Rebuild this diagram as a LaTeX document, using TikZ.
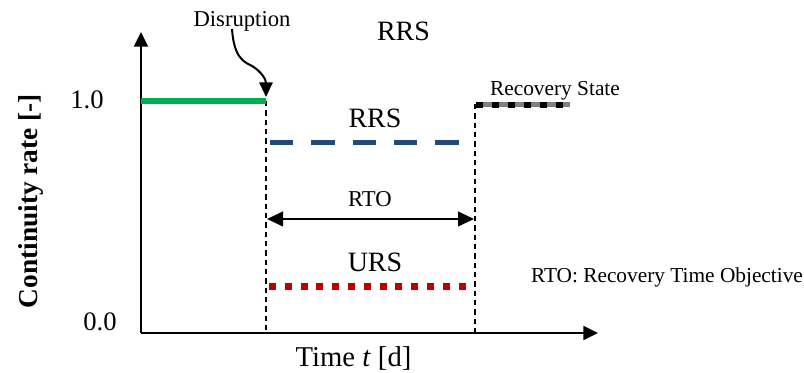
\documentclass[tikz,border=0pt]{standalone}
\usepackage{fontspec}
\setmainfont{Liberation Serif}
\usetikzlibrary{arrows.meta}

\definecolor{okgreen}{RGB}{0,176,80}
\definecolor{rrsblue}{RGB}{35,72,122}
\definecolor{ursred}{RGB}{192,0,0}

\begin{document}
\begin{tikzpicture}[x=0.75pt,y=-0.75pt,
  >={Triangle[length=11pt,width=10.5pt]},
  axis/.style={line width=1.5pt,->},
  guide/.style={line width=1.1pt,dash pattern=on 4pt off 3pt},
  txt/.style={anchor=base,inner sep=0pt},
  big text/.style={txt,font=\fontsize{21}{24}\selectfont},
  mid text/.style={txt,font=\fontsize{17}{20}\selectfont},
  small text/.style={txt,font=\fontsize{16}{18}\selectfont}]
  \useasboundingbox (0,0) rectangle (804,373);

  % axes
  \coordinate (o) at (141,333);
  \coordinate (ytop) at (141,32);
  \coordinate (xend) at (598,333);
  \draw[axis] (o) -- (ytop);
  \draw[axis] (o) -- (xend);

  % disruption and recovery instants
  \coordinate (dtop) at (266,101);
  \coordinate (dbot) at (266,333);
  \coordinate (rtop) at (475,104);
  \coordinate (rbot) at (475,333);
  \draw[guide] (dtop) -- (dbot);
  \draw[guide] (rtop) -- (rbot);

  % states
  \coordinate (n0) at (141,101);
  \draw[okgreen,line width=4.5pt] (n0) -- (dtop);
  \coordinate (b0) at (270,143);
  \coordinate (b1) at (460,143);
  \draw[rrsblue,line width=3.75pt,dash pattern=on 17.5pt off 13.5pt] (b0) -- (b1);
  \coordinate (u0) at (269,287);
  \coordinate (u1) at (470,287);
  \draw[ursred,line width=5.25pt,dash pattern=on 5.25pt off 6.6pt] (u0) -- (u1);
  \coordinate (s0) at (476,105);
  \coordinate (s1) at (570,105);
  \draw[gray,line width=3.75pt] (s0) -- (s1);
  \draw[black,line width=5pt,dash pattern=on 5.25pt off 6.75pt] (s0) -- (s1);

  % RTO span
  \coordinate (t0) at (267,219);
  \coordinate (t1) at (474,219);
  \draw[line width=1.5pt,{Triangle[length=12pt,width=11pt]}-{Triangle[length=12pt,width=11pt]}] (t0) -- (t1);

  % labels
  \node[mid text] (disr) at (242,26.7) {Disruption};
  \node[big text] (rrstop) at (403.5,40.7) {RRS};
  \node[big text] (rrs) at (375,128) {RRS};
  \node[mid text] (rto) at (370,207) {RTO};
  \node[big text] (urs) at (375,272) {URS};
  \node[small text] (rec) at (555,96) {Recovery State};
  \node[small text] (note) at (667,283) {RTO: Recovery Time Objective};
  \node[txt,font=\fontsize{20}{24}\selectfont] (one) at (87,109) {1.0};
  \node[txt,font=\fontsize{20}{24}\selectfont] (zero) at (100,331) {0.0};
  \node[txt,font=\fontsize{21.5}{24}\selectfont] (xlab) at (353.5,367) {Time \textit{t} [d]};
  \node[txt,rotate=90,font=\bfseries\fontsize{20.5}{24}\selectfont] (ylab) at (37,201) {Continuity rate [-]};

  % disruption pointer
  \coordinate (dstart) at (232,29);
  \coordinate (hit) at (266,97);
  \draw[line width=1.5pt,-{Triangle[length=11pt,width=10pt]}] (dstart) .. controls (234,58) and (244,62) .. (252,66) .. controls (262,72) and (266,80) .. (hit);
\end{tikzpicture}
\end{document}
